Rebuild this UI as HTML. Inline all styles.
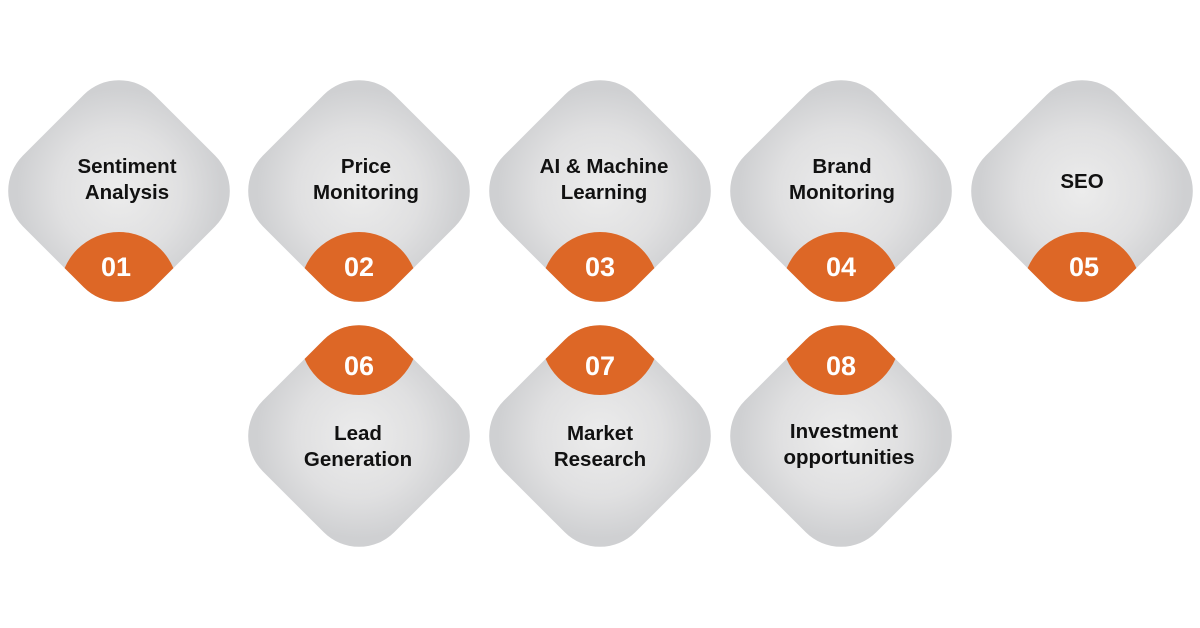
<!DOCTYPE html>
<html><head><meta charset="utf-8"><style>
html,body{margin:0;padding:0;background:#fff;}
svg{display:block}
text{font-family:"Liberation Sans",sans-serif;font-weight:bold;text-anchor:middle}
.t{font-size:20.5px;fill:#111}
.n{font-size:27px;fill:#fff}
</style></head><body>
<svg width="1200" height="628" viewBox="0 0 1200 628" xmlns="http://www.w3.org/2000/svg">
<defs>
<radialGradient id="g" cx="50%" cy="50%" r="55%">
<stop offset="0" stop-color="#ececec"/><stop offset="0.6" stop-color="#e0e0e1"/><stop offset="1" stop-color="#cfd0d2"/>
</radialGradient>
<clipPath id="cd"><rect x="-93" y="-93" width="186" height="186" rx="50" transform="rotate(45)"/></clipPath>
<g id="d1">
<rect x="-93" y="-93" width="186" height="186" rx="50" transform="rotate(45)" fill="url(#g)"/>
<g clip-path="url(#cd)"><circle cx="0" cy="100" r="59" fill="#dd6726"/></g>
</g>
<g id="d2">
<rect x="-93" y="-93" width="186" height="186" rx="50" transform="rotate(45)" fill="url(#g)"/>
<g clip-path="url(#cd)"><circle cx="0" cy="-100" r="59" fill="#dd6726"/></g>
</g>
</defs>
<use href="#d1" x="119" y="191"/>
<use href="#d1" x="359" y="191"/>
<use href="#d1" x="600" y="191"/>
<use href="#d1" x="841" y="191"/>
<use href="#d1" x="1082" y="191"/>
<use href="#d2" x="359" y="436"/>
<use href="#d2" x="600" y="436"/>
<use href="#d2" x="841" y="436"/>

<text class="t" x="127" y="173">Sentiment</text><text class="t" x="127" y="199">Analysis</text>
<text class="t" x="366" y="173">Price</text><text class="t" x="366" y="199">Monitoring</text>
<text class="t" x="604" y="173">AI &amp; Machine</text><text class="t" x="604" y="199">Learning</text>
<text class="t" x="842" y="173">Brand</text><text class="t" x="842" y="199">Monitoring</text>
<text class="t" x="1082" y="188">SEO</text>
<text class="t" x="358" y="440">Lead</text><text class="t" x="358" y="466">Generation</text>
<text class="t" x="600" y="440">Market</text><text class="t" x="600" y="466">Research</text>
<text class="t" x="844" y="438">Investment</text><text class="t" x="849" y="464">opportunities</text>

<text class="n" x="116" y="276">01</text>
<text class="n" x="359" y="276">02</text>
<text class="n" x="600" y="276">03</text>
<text class="n" x="841" y="276">04</text>
<text class="n" x="1084" y="276">05</text>
<text class="n" x="359" y="375">06</text>
<text class="n" x="600" y="375">07</text>
<text class="n" x="841" y="375">08</text>
</svg>
</body></html>
